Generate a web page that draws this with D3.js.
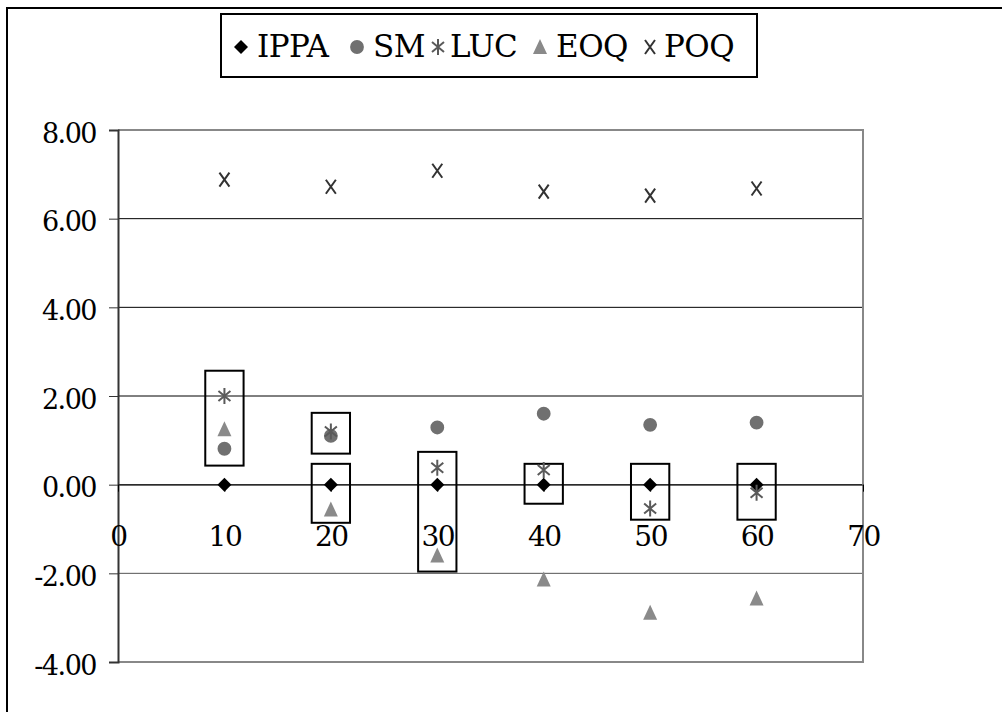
<!DOCTYPE html>
<html>
<head>
<meta charset="utf-8">
<script src="https://cdn.jsdelivr.net/npm/d3@7"></script>
<style>
  body { margin: 0; background: #fff; }
  svg text { font-family: "DejaVu Serif", serif; }
</style>
</head>
<body>
<div id="chart"></div>
<script>
const xValues = [10, 20, 30, 40, 50, 60];
const ippa = [0, 0, 0, 0, 0, 0];
const sm = [0.81, 1.1, 1.29, 1.6, 1.35, 1.4];
const luc = [2.0, 1.2, 0.38, 0.33, -0.54, -0.18];
const eoq = [1.25, -0.56, -1.6, -2.14, -2.89, -2.57];
const poq = [6.88, 6.72, 7.08, 6.61, 6.52, 6.68];
const xTicks = [0, 10, 20, 30, 40, 50, 60, 70];
const yTicks = [-4, -2, 0, 2, 4, 6, 8];

// highlighted groups: x position, top value, bottom value
const boxX = [10, 20, 20, 30, 40, 50, 60];
const boxTop = [2.57, 1.62, 0.47, 0.74, 0.47, 0.47, 0.47];
const boxBottom = [0.43, 0.70, -0.86, -1.96, -0.43, -0.79, -0.79];

const width = 1002, height = 712;
const margin = { top: 130, right: 139, bottom: 50, left: 118 };

const svg = d3.select("#chart")
    .append("svg")
    .attr("width", width)
    .attr("height", height);

svg.append("rect")
    .attr("x", 7).attr("y", 8)
    .attr("width", width).attr("height", height)
    .attr("fill", "none")
    .attr("stroke", "#000")
    .attr("stroke-width", 2);

const xScale = d3.scaleLinear()
    .domain([0, 70])
    .range([margin.left, width - margin.right]);

const yScale = d3.scaleLinear()
    .domain([-4, 8])
    .range([height - margin.bottom, margin.top]);

// gridlines
svg.append("g")
    .selectAll("line")
    .data(yTicks.filter(d => d > -4 && d < 8))
    .enter().append("line")
    .attr("x1", xScale(0)).attr("x2", xScale(70))
    .attr("y1", d => yScale(d)).attr("y2", d => yScale(d))
    .attr("stroke", d => d < 0 ? "#555" : "#000")
    .attr("stroke-width", 1);

// plot area border
svg.append("path")
    .attr("d", `M${xScale(0)},${yScale(8)}H${xScale(70)}V${yScale(-4)}H${xScale(0)}`)
    .attr("fill", "none")
    .attr("stroke", "#888")
    .attr("stroke-width", 2);

const fmt = d => d3.format(".2f")(d).replace("\u2212", "-");

// y axis
const yAxis = svg.append("g")
    .attr("transform", `translate(${xScale(0)},0)`)
    .call(d3.axisLeft(yScale).tickValues(yTicks).tickFormat(fmt).tickSize(9).tickPadding(13));
yAxis.attr("font-family", null);
yAxis.select(".domain").attr("stroke", "#333").attr("stroke-width", 2);
yAxis.selectAll(".tick line").attr("stroke", "#333");
yAxis.selectAll("text")
    .attr("font-size", 27)
    .attr("letter-spacing", -1.5)
    .attr("fill", "#000")
    .attr("dy", "0.45em");

// x axis crossing at zero
const xAxis = svg.append("g")
    .attr("transform", `translate(0,${yScale(0)})`)
    .call(d3.axisBottom(xScale).tickValues(xTicks).tickFormat(d3.format("d")).tickSize(7).tickSizeOuter(0).tickPadding(34));
xAxis.attr("font-family", null);
xAxis.select(".domain").attr("stroke", "#333").attr("stroke-width", 1);
xAxis.selectAll(".tick line").attr("stroke", "#000");
xAxis.selectAll("text")
    .attr("font-size", 28)
    .attr("letter-spacing", -1.5)
    .attr("fill", "#000");

// highlight boxes
svg.append("g")
    .selectAll("rect")
    .data(boxX.map((x, i) => ({ x, top: boxTop[i], bottom: boxBottom[i] })))
    .enter().append("rect")
    .attr("x", d => xScale(d.x - 1.8))
    .attr("y", d => yScale(d.top))
    .attr("width", xScale(3.6) - xScale(0))
    .attr("height", d => yScale(d.bottom) - yScale(d.top))
    .attr("fill", "none")
    .attr("stroke", "#000")
    .attr("stroke-width", 2);

// marker shapes
const shapes = {
    diamond: "M0,-7L7,0L0,7L-7,0Z",
    circle: d3.symbol(d3.symbolCircle, 150)(),
    triangle: "M0,-8L7,7L-7,7Z",
    star: "M0,-8V8M-6,-5L6,5M-6,5L6,-5",
    cross: "M-5,-7L5,7M-5,7L5,-7"
};

const series = [
    { name: "IPPA", values: ippa, shape: "diamond", fill: "#000", stroke: "none" },
    { name: "SM", values: sm, shape: "circle", fill: "#707070", stroke: "none" },
    { name: "LUC", values: luc, shape: "star", fill: "none", stroke: "#5a5a5a" },
    { name: "EOQ", values: eoq, shape: "triangle", fill: "#8a8a8a", stroke: "none" },
    { name: "POQ", values: poq, shape: "cross", fill: "none", stroke: "#333" }
];

const drawOrder = [3, 0, 1, 2, 4];
drawOrder.forEach(i => {
    const s = series[i];
    svg.append("g")
        .selectAll("path")
        .data(s.values)
        .enter().append("path")
        .attr("transform", (d, j) => `translate(${xScale(xValues[j])},${yScale(d)})`)
        .attr("d", shapes[s.shape])
        .attr("fill", s.fill)
        .attr("stroke", s.stroke)
        .attr("stroke-width", 2);
});

// legend
const legend = svg.append("g");
legend.append("rect")
    .attr("x", 221).attr("y", 14)
    .attr("width", 536).attr("height", 63)
    .attr("fill", "#fff")
    .attr("stroke", "#000")
    .attr("stroke-width", 2);

const legendMarkX = [241, 357, 438, 540, 650];
const legendTextX = [257, 373, 450, 556, 664];
series.forEach((s, i) => {
    legend.append("path")
        .attr("transform", `translate(${legendMarkX[i]},47)`)
        .attr("d", shapes[s.shape])
        .attr("fill", s.fill)
        .attr("stroke", s.stroke)
        .attr("stroke-width", 2);
    legend.append("text")
        .attr("x", legendTextX[i])
        .attr("y", 57)
        .attr("font-size", 31)
        .attr("letter-spacing", -0.5)
        .attr("fill", "#000")
        .text(s.name);
});
</script>
</body>
</html>
